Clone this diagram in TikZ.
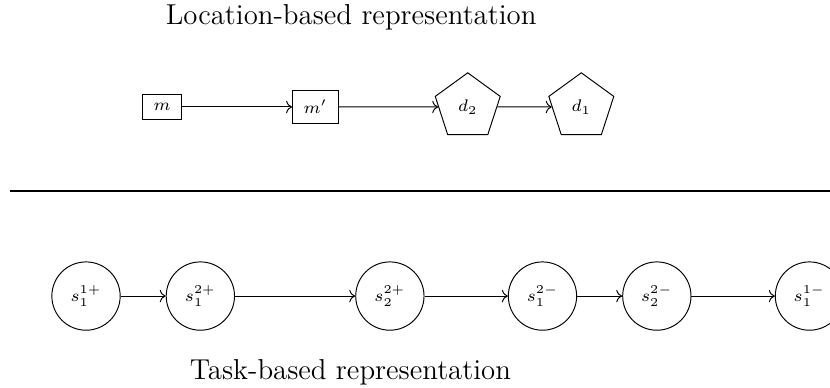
\documentclass[tikz,border=0pt]{standalone}
\usepackage{amsmath,amssymb}
\usepackage{tikz}
\usetikzlibrary{arrows.meta,positioning,shapes.geometric}
\tikzset{
  locbox/.style ={draw,rectangle,inner xsep=4.6pt,inner ysep=3.8pt,font=\scriptsize},
  depot/.style  ={draw,regular polygon,regular polygon sides=5,minimum size=1cm,inner sep=0pt,font=\scriptsize},
  task/.style   ={draw,circle,minimum size=1cm,inner sep=0pt,font=\scriptsize},
  link/.style   ={->},
  caption/.style={font=\large},
}

\begin{document}
\begin{tikzpicture}[node distance=0pt]
  \useasboundingbox (0,0) rectangle (12.15,5.666);
  % location-based row
  \node[caption] (loctitle) at (5.14,5.42) {Location-based representation};
  \node[locbox] (m) at (2.372,4.10) {$m$};
  \node[locbox, right=1.61cm of m] (mp) {$m'$};
  \node[depot, right=1.457cm of mp] (d2) {$d_2$};
  \node[depot, right=0.797cm of d2] (d1) {$d_1$};
  \draw[link] (m) -- (mp);
  \draw[link] (mp) -- (d2);
  \draw[link] (d2) -- (d1);
  % separator
  \coordinate (sepL) at (0.146,2.874);
  \coordinate (sepR) at (12.4,2.874);
  \draw[thick] (sepL) -- (sepR);
  % task-based row
  \node[task] (s11p) at (1.259,1.332) {$s_1^{1+}$};
  \node[task, right=0.66cm of s11p] (s12p) {$s_1^{2+}$};
  \node[task, right=1.76cm of s12p] (s22p) {$s_2^{2+}$};
  \node[task, right=1.22cm of s22p] (s21m) {$s_1^{2-}$};
  \node[task, right=0.66cm of s21m] (s22m) {$s_2^{2-}$};
  \node[task, right=1.22cm of s22m] (s11m) {$s_1^{1-}$};
  \draw[link] (s11p) -- (s12p);
  \draw[link] (s12p) -- (s22p);
  \draw[link] (s22p) -- (s21m);
  \draw[link] (s21m) -- (s22m);
  \draw[link] (s22m) -- (s11m);
  \node[caption] (tasktitle) at (5.13,0.22) {Task-based representation};
\end{tikzpicture}
\end{document}
